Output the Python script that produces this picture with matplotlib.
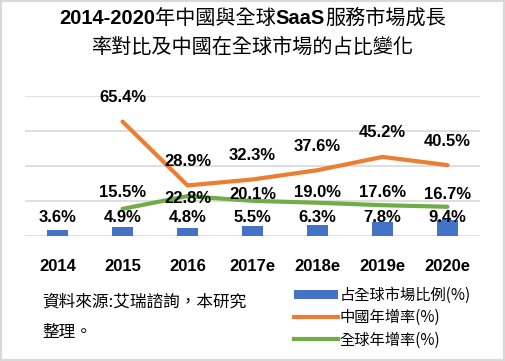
import matplotlib
matplotlib.use("Agg")
import matplotlib.pyplot as plt
from matplotlib.patches import Rectangle, Patch
from matplotlib.lines import Line2D

# --- data ---
years = ["2014", "2015", "2016", "2017e", "2018e", "2019e", "2020e"]
share_global = [3.6, 4.9, 4.8, 5.5, 6.3, 7.8, 9.4]          # 占全球市場比例(%)
china_growth = [None, 65.4, 28.9, 32.3, 37.6, 45.2, 40.5]    # 中國年增率(%)
global_growth = [None, 15.5, 22.8, 20.1, 19.0, 17.6, 16.7]   # 全球年增率(%)

BLUE = "#4472C4"
ORANGE = "#ED7D31"
GREEN = "#70AD47"
GRID = "#D9D9D9"

CJK = ["Noto Sans CJK TC", "DejaVu Sans"]
LAT = ["Liberation Sans", "DejaVu Sans"]

fig = plt.figure(figsize=(5.05, 3.61), dpi=100)
ax = fig.add_axes([25 / 505, 1 - 236 / 361, 455 / 505, 140 / 361])

x = list(range(len(years)))
ax.bar(x, share_global, width=0.31, color=BLUE, zorder=2)

cx = [i for i, v in zip(x, china_growth) if v is not None]
cy = [v for v in china_growth if v is not None]
gx = [i for i, v in zip(x, global_growth) if v is not None]
gy = [v for v in global_growth if v is not None]
ax.plot(cx, cy, color=ORANGE, lw=3.0, solid_capstyle="round", zorder=3)
ax.plot(gx, gy, color=GREEN, lw=3.0, solid_capstyle="round", zorder=3)

ax.set_xlim(-0.5, len(years) - 0.5)
ax.set_ylim(0, 80)
ax.set_yticks([0, 20, 40, 60, 80])
ax.yaxis.grid(True, color=GRID, lw=1.2, zorder=0)
ax.tick_params(left=False, bottom=False, labelleft=False)
for s in ax.spines.values():
    s.set_visible(False)
ax.set_xticks(x)
ax.set_xticklabels(years, fontsize=12, fontweight="bold", family=LAT)
ax.tick_params(axis="x", pad=13)

lab_kw = dict(ha="center", va="center", fontsize=12, fontweight="bold",
              family=LAT, textcoords="offset pixels", zorder=5)

# bar labels sit at a fixed height
for i, v in zip(x, share_global):
    ax.annotate(f"{v:.1f}%", (i, 0), xytext=(0, 18), **lab_kw)

for i, v in zip(cx, cy):
    ax.annotate(f"{v:.1f}%", (i, v), xytext=(0, 24), **lab_kw)

green_off = [16, -2, 6, 10, 13, 12]
for (i, v), off in zip(zip(gx, gy), green_off):
    ax.annotate(f"{v:.1f}%", (i, v), xytext=(0, off), **lab_kw)


# --- title with mixed weights ---
def draw_pieces(pieces, y, size):
    renderer = fig.canvas.get_renderer()
    texts = []
    for s, bold in pieces:
        fam = LAT if bold else CJK
        t = fig.text(0, y, s, fontsize=size, fontweight="bold" if bold else "normal",
                     family=fam, ha="left", va="center")
        texts.append(t)
    widths = [t.get_window_extent(renderer).width for t in texts]
    total = sum(widths)
    xpix = fig.bbox.width / 2 - total / 2
    for t, w in zip(texts, widths):
        t.set_x(xpix / fig.bbox.width)
        xpix += w


draw_pieces([("2014-2020", True), ("年中國與全球", False), ("SaaS", True),
             ("服務市場成長", False)], 1 - 18 / 361, 14.5)
draw_pieces([("率對比及中國在全球市場的占比變化", False)], 1 - 47 / 361, 14.5)

# source note
fig.text(42 / 505, 1 - 302 / 361, "資料來源:艾瑞諮詢，本研究", fontsize=12,
         family=CJK, ha="left", va="center")
fig.text(42 / 505, 1 - 333 / 361, "整理。", fontsize=12,
         family=CJK, ha="left", va="center")

# legend
handles = [Patch(facecolor=BLUE, edgecolor="none"),
           Line2D([], [], color=ORANGE, lw=3),
           Line2D([], [], color=GREEN, lw=3)]
labels = ["占全球市場比例(%)", "中國年增率(%)", "全球年增率(%)"]
leg = fig.legend(handles, labels, loc="upper left", bbox_to_anchor=(286 / 505, 1 - 279 / 361),
                 frameon=False, prop={"family": CJK, "size": 11}, handlelength=2.9,
                 handleheight=0.5, handletextpad=0.1, labelspacing=0.35, borderpad=0)

# outer frame
fig.patches.append(Rectangle((0, 0), 1, 1, transform=fig.transFigure, fill=False,
                             edgecolor=GRID, lw=3))

fig.savefig("out.png", dpi=100)
